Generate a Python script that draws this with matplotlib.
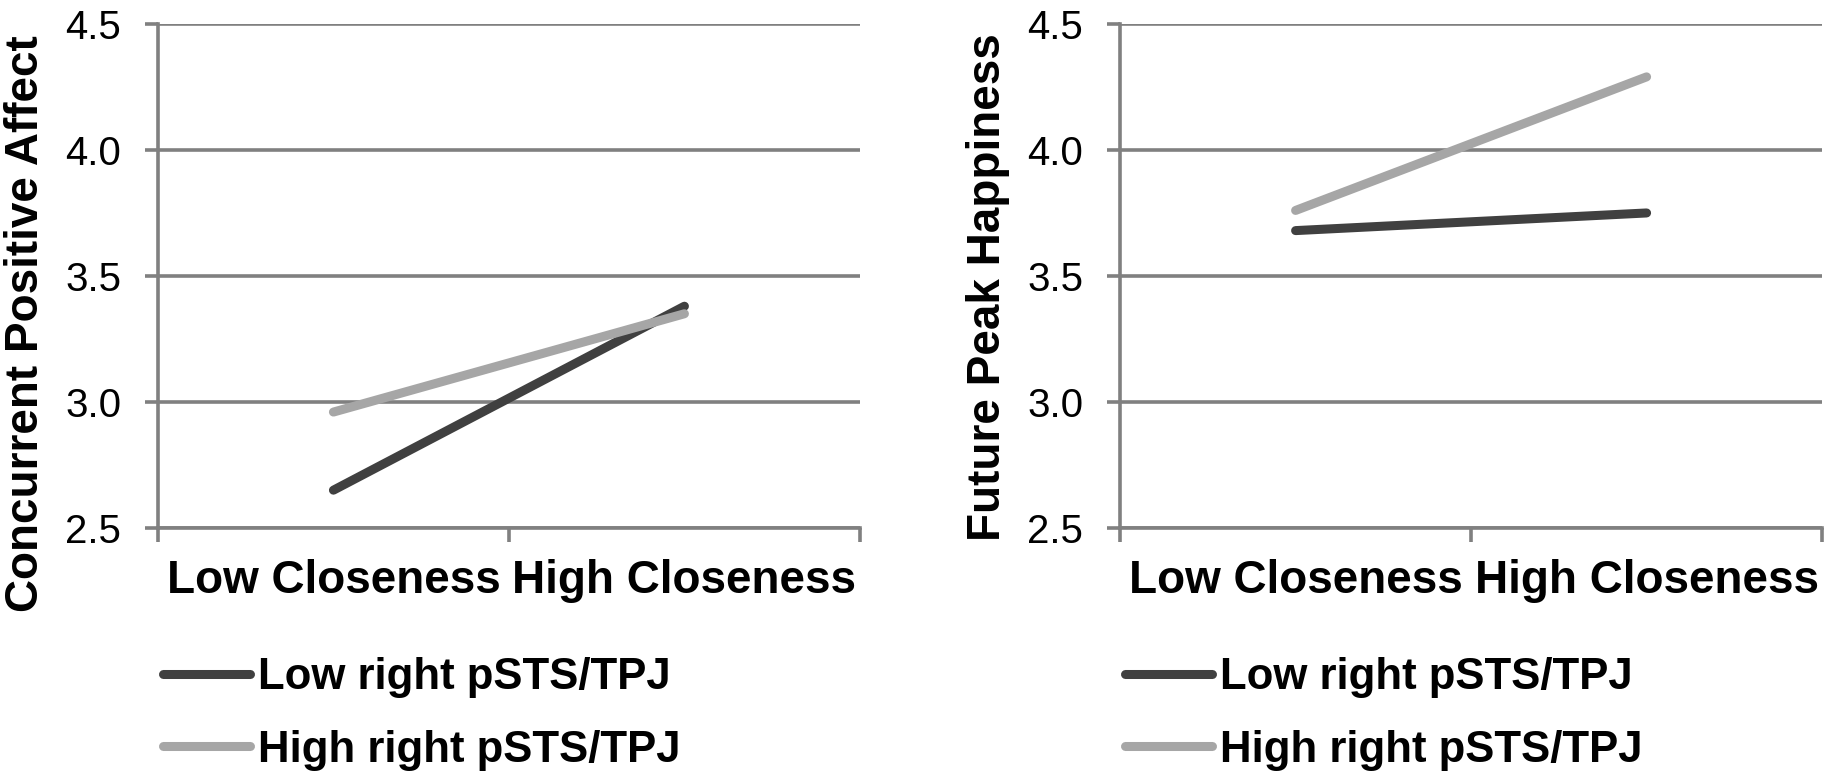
import matplotlib
matplotlib.use("Agg")
import matplotlib.pyplot as plt

categories = ["Low Closeness", "High Closeness"]
series_names = ["Low right pSTS/TPJ", "High right pSTS/TPJ"]
affect_low = [2.65, 3.38]
affect_high = [2.96, 3.35]
happy_low = [3.68, 3.75]
happy_high = [3.76, 4.29]
yticks = [2.5, 3.0, 3.5, 4.0, 4.5]

colors = ["#404040", "#a6a6a6"]
grid_color = "#808080"
font = "Liberation Sans"

fig = plt.figure(figsize=(18.32, 7.8), dpi=100)
ax1 = fig.add_axes([0.0862, 0.3231, 0.3832, 0.6462])
ax2 = fig.add_axes([0.6114, 0.3231, 0.3832, 0.6462])

panels = [
    (ax1, affect_low, affect_high, "Concurrent Positive Affect", -0.188, 0.405),
    (ax2, happy_low, happy_high, "Future Peak Happiness", -0.188, 0.478),
]

for ax, low, high, ylab, lx, ly in panels:
    xpos = [0.5, 1.5]
    for vals, name, c in zip([low, high], series_names, colors):
        ax.plot(xpos, vals, color=c, lw=6.5, solid_capstyle="round", label=name, zorder=3)
    ax.set_xlim(0, 2)
    ax.set_ylim(2.5, 4.5)
    ax.set_yticks(yticks)
    ax.set_yticklabels([f"{v:.1f}" for v in yticks], fontfamily=font, fontsize=29)
    ax.grid(axis="y", color=grid_color, lw=2.6, zorder=1)
    ax.set_axisbelow(True)
    ax.set_xticks([0, 1, 2])
    ax.set_xticklabels([])
    ax.set_xticks(xpos, minor=True)
    ax.set_xticklabels(categories, minor=True, fontsize=33, fontweight="bold",
                       fontfamily=font)
    ax.tick_params(axis="x", which="minor", length=0, pad=22)
    ax.tick_params(axis="x", which="major", length=10, width=2.6, color=grid_color)
    ax.tick_params(axis="y", length=9.5, width=2.6, color=grid_color, pad=17)
    for s in ["top", "right"]:
        ax.spines[s].set_visible(False)
    for s in ["left", "bottom"]:
        ax.spines[s].set_color(grid_color)
        ax.spines[s].set_linewidth(2.6)
    ax.text(lx, ly, ylab, transform=ax.transAxes, rotation=90, ha="center",
            va="center", fontsize=33, fontweight="bold", fontfamily=font)
    ax.legend(loc="upper left", bbox_to_anchor=(0.007, -0.256), frameon=False,
              prop={"family": font, "weight": "bold", "size": 31.5},
              handlelength=2.0, handletextpad=0.18, labelspacing=0.72,
              borderpad=0, borderaxespad=0)

fig.savefig("out.png", dpi=100)
